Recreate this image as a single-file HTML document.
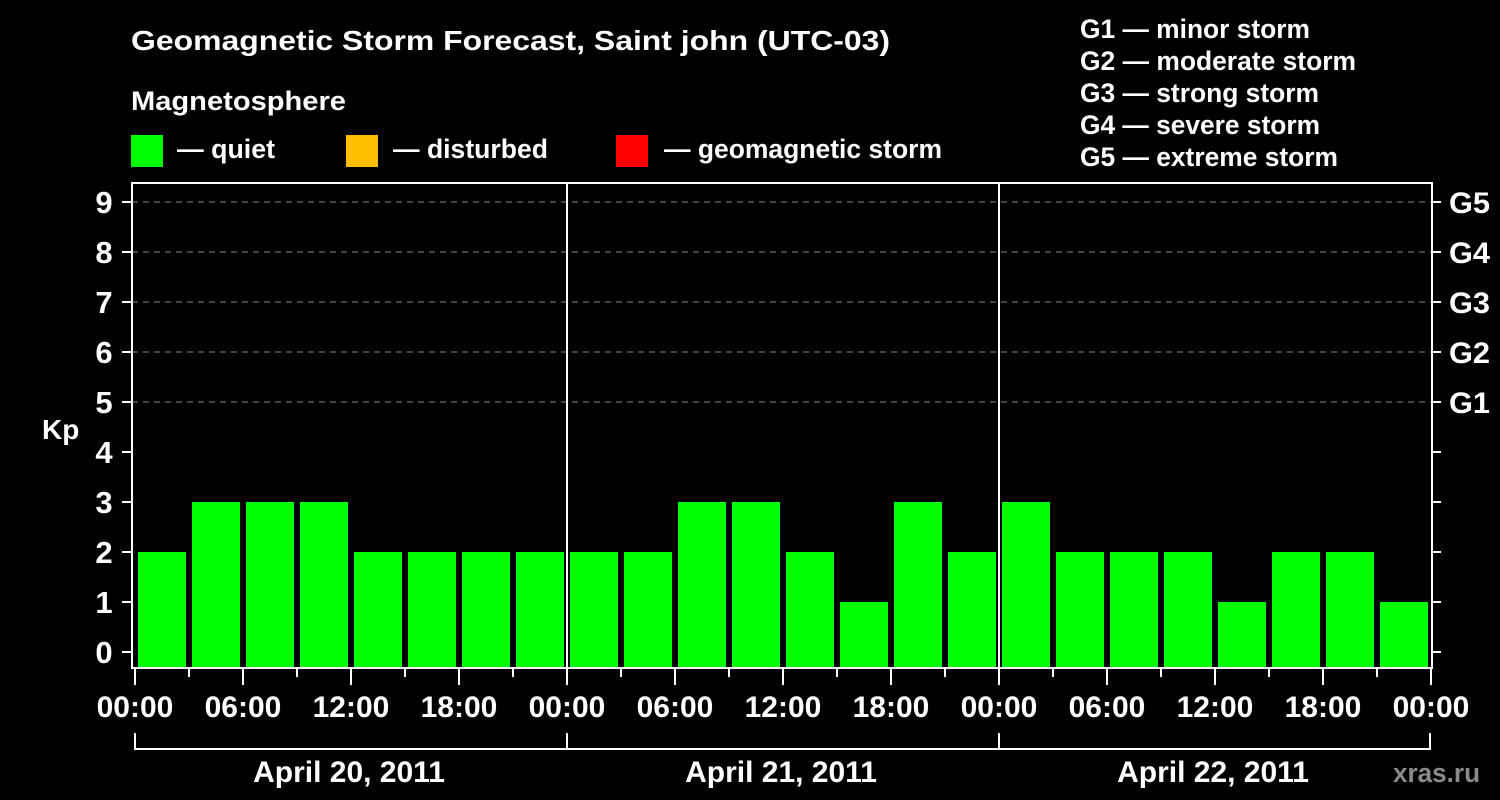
<!DOCTYPE html><html><head><style>body{margin:0;background:#000}svg{display:block}text{font-family:"Liberation Sans",Arial,sans-serif;font-weight:bold;fill:#fff}</style></head><body>
<svg width="1500" height="800" xmlns="http://www.w3.org/2000/svg">
<rect width="1500" height="800" fill="#000"/>
<text x="131" y="50" font-size="28" textLength="759" lengthAdjust="spacingAndGlyphs">Geomagnetic Storm Forecast, Saint john (UTC-03)</text>
<text x="131" y="110" font-size="27" textLength="215" lengthAdjust="spacingAndGlyphs">Magnetosphere</text>
<rect x="131" y="135" width="32" height="32" fill="#00ff00"/><text x="177" y="158" font-size="27" textLength="98" lengthAdjust="spacingAndGlyphs">— quiet</text>
<rect x="346" y="135" width="32" height="32" fill="#ffbf00"/><text x="393" y="158" font-size="27" textLength="155" lengthAdjust="spacingAndGlyphs">— disturbed</text>
<rect x="616" y="135" width="32" height="32" fill="#ff0000"/><text x="664" y="158" font-size="27" textLength="278" lengthAdjust="spacingAndGlyphs">— geomagnetic storm</text>
<g font-size="27">
<text x="1080" y="38" textLength="230" lengthAdjust="spacingAndGlyphs">G1 — minor storm</text>
<text x="1080" y="70" textLength="276" lengthAdjust="spacingAndGlyphs">G2 — moderate storm</text>
<text x="1080" y="102" textLength="239" lengthAdjust="spacingAndGlyphs">G3 — strong storm</text>
<text x="1080" y="134" textLength="240" lengthAdjust="spacingAndGlyphs">G4 — severe storm</text>
<text x="1080" y="166" textLength="258" lengthAdjust="spacingAndGlyphs">G5 — extreme storm</text>
</g>
<g stroke="#888" stroke-dasharray="6,5" stroke-width="1">
<line x1="132" x2="1432" y1="202" y2="202"/><line x1="132" x2="1432" y1="252" y2="252"/><line x1="132" x2="1432" y1="302" y2="302"/><line x1="132" x2="1432" y1="352" y2="352"/><line x1="132" x2="1432" y1="402" y2="402"/>
</g>
<g fill="#00ff00">
<rect x="138" y="552" width="48" height="116"/>
<rect x="192" y="502" width="48" height="166"/>
<rect x="246" y="502" width="48" height="166"/>
<rect x="300" y="502" width="48" height="166"/>
<rect x="354" y="552" width="48" height="116"/>
<rect x="408" y="552" width="48" height="116"/>
<rect x="462" y="552" width="48" height="116"/>
<rect x="516" y="552" width="48" height="116"/>
<rect x="570" y="552" width="48" height="116"/>
<rect x="624" y="552" width="48" height="116"/>
<rect x="678" y="502" width="48" height="166"/>
<rect x="732" y="502" width="48" height="166"/>
<rect x="786" y="552" width="48" height="116"/>
<rect x="840" y="602" width="48" height="66"/>
<rect x="894" y="502" width="48" height="166"/>
<rect x="948" y="552" width="48" height="116"/>
<rect x="1002" y="502" width="48" height="166"/>
<rect x="1056" y="552" width="48" height="116"/>
<rect x="1110" y="552" width="48" height="116"/>
<rect x="1164" y="552" width="48" height="116"/>
<rect x="1218" y="602" width="48" height="66"/>
<rect x="1272" y="552" width="48" height="116"/>
<rect x="1326" y="552" width="48" height="116"/>
<rect x="1380" y="602" width="48" height="66"/>
</g>
<g stroke="#fff" stroke-width="2" fill="none">
<rect x="132" y="183" width="1300" height="485"/>
<line x1="567" y1="183" x2="567" y2="668"/><line x1="999" y1="183" x2="999" y2="668"/>
<path d="M122 652h10M122 602h10M122 552h10M122 502h10M122 452h10M122 402h10M122 352h10M122 302h10M122 252h10M122 202h10
M1432 652h9M1432 602h9M1432 552h9M1432 502h9M1432 452h9M1432 402h9M1432 352h9M1432 302h9M1432 252h9M1432 202h9
M135 668v17M189 668v9M243 668v17M297 668v9M351 668v17M405 668v9M459 668v17M513 668v9M567 668v17M621 668v9M675 668v17M729 668v9M783 668v17M837 668v9M891 668v17M945 668v9M999 668v17M1053 668v9M1107 668v17M1161 668v9M1215 668v17M1269 668v9M1323 668v17M1377 668v9M1431 668v17
M135 733v17M567 733v17M999 733v17M1430 733v17M134 749h1297"/>
</g>
<g font-size="31" text-anchor="middle">
<text x="104" y="663">0</text><text x="104" y="613">1</text><text x="104" y="563">2</text><text x="104" y="513">3</text><text x="104" y="463">4</text><text x="104" y="413">5</text><text x="104" y="363">6</text><text x="104" y="313">7</text><text x="104" y="263">8</text><text x="104" y="213">9</text>
</g>
<g font-size="30">
<text x="1449" y="413" textLength="41" lengthAdjust="spacingAndGlyphs">G1</text><text x="1449" y="363" textLength="41" lengthAdjust="spacingAndGlyphs">G2</text><text x="1449" y="313" textLength="41" lengthAdjust="spacingAndGlyphs">G3</text><text x="1449" y="263" textLength="41" lengthAdjust="spacingAndGlyphs">G4</text><text x="1449" y="213" textLength="41" lengthAdjust="spacingAndGlyphs">G5</text>
</g>
<g font-size="30" text-anchor="middle">
<text x="135" y="717">00:00</text><text x="243" y="717">06:00</text><text x="351" y="717">12:00</text><text x="459" y="717">18:00</text>
<text x="567" y="717">00:00</text><text x="675" y="717">06:00</text><text x="783" y="717">12:00</text><text x="891" y="717">18:00</text>
<text x="999" y="717">00:00</text><text x="1107" y="717">06:00</text><text x="1215" y="717">12:00</text><text x="1323" y="717">18:00</text><text x="1431" y="717">00:00</text>
<text x="349" y="782" font-size="30">April 20, 2011</text><text x="781" y="782" font-size="30">April 21, 2011</text><text x="1213" y="782" font-size="30">April 22, 2011</text>
</g>
<text x="42" y="439" font-size="28">Kp</text>
<text x="1393" y="782" font-size="27" style="fill:#8a8a8a" textLength="87" lengthAdjust="spacingAndGlyphs">xras.ru</text>
</svg></body></html>
